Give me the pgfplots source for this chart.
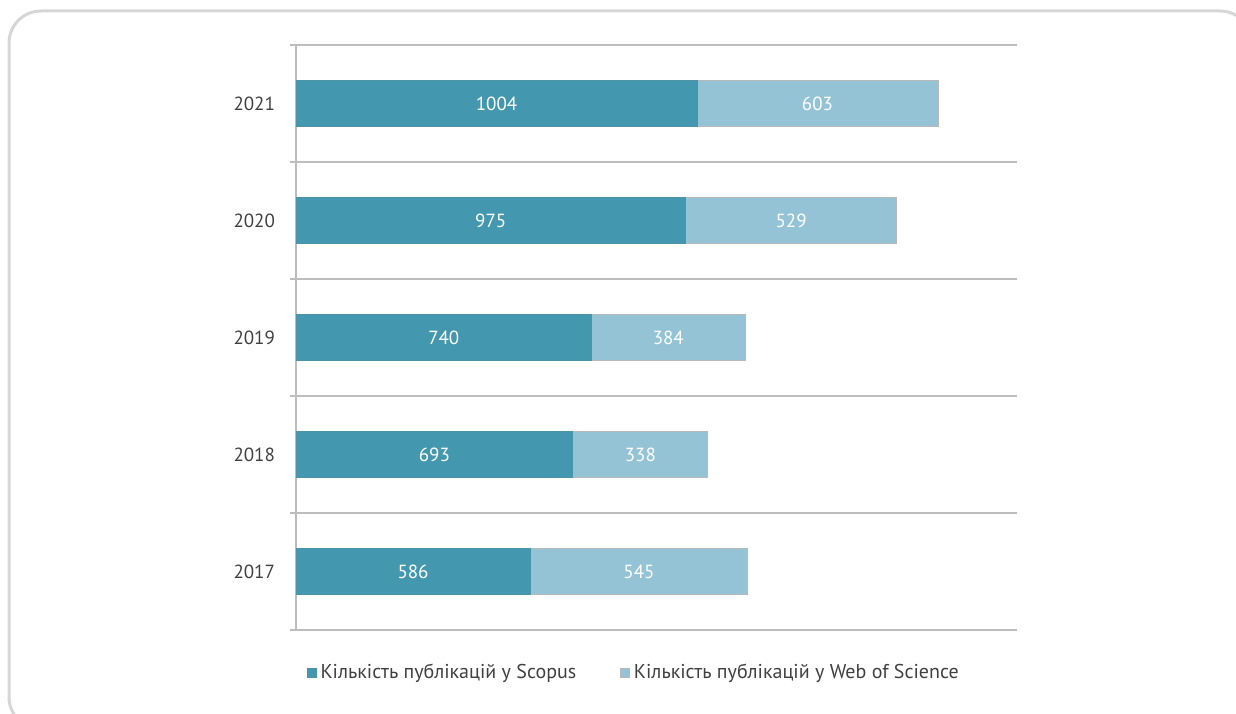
\documentclass[border=0pt]{standalone}
\usepackage{pgfplots}
\pgfplotsset{compat=1.18}
\usepackage{fontspec}
\setmainfont{PT Sans}
\definecolor{scop}{HTML}{4397AF}
\definecolor{wos}{HTML}{93C3D5}
\definecolor{gridc}{HTML}{BDBDBD}
\definecolor{txt}{HTML}{404040}
\definecolor{frame}{HTML}{D6D6D6}
\pgfplotsset{
  geom/.style={
    at={(148pt,41.5pt)}, anchor=south west,
    width=360.5pt, height=292.5pt, scale only axis,
    xmin=0, xmax=1805, ymin=-0.5, ymax=4.5,
  }
}
\begin{document}
\begin{tikzpicture}
\useasboundingbox (0pt,0pt) rectangle (618pt,356.5pt);
\begin{scope}
\clip (0pt,0pt) rectangle (618pt,356.5pt);
\draw[frame, line width=1.5pt, rounded corners=16pt] (4.5pt,-8pt) rectangle (626pt,351pt);
\end{scope}
\begin{axis}[
  geom,
  xbar stacked, bar width=23pt,
  axis x line=none,
  axis y line*=left,
  ytick={0,1,2,3,4},
  yticklabels={2017,2018,2019,2020,2021},
  minor ytick={-0.5,0.5,1.5,2.5,3.5,4.5},
  major tick length=0pt,
  minor tick length=3pt,
  tick align=outside,
  yminorgrids=true,
  minor grid style={gridc, line width=1pt},
  every minor tick/.style={gridc, line width=1pt},
  y axis line style={gridc, line width=1pt},
  yticklabel style={txt, font=\fontsize{9.5}{11}\selectfont, xshift=-7pt},
  legend style={at={(0.47,-0.0735)}, anchor=center, draw=none, fill=none,
    legend columns=2, font=\fontsize{10}{12}\selectfont, text=txt,
    /tikz/every even column/.append style={column sep=20pt}},
  legend image code/.code={\fill[#1] (0pt,-2.2pt) rectangle (4.4pt,2.2pt);},
]
\addplot[fill=scop, draw=scop!85!gray, line width=0.4pt]
  coordinates {(586,0) (693,1) (740,2) (975,3) (1004,4)};
\addlegendentry{Кількість публікацій у Scopus}
\addplot[fill=wos, draw=gray!55, line width=0.4pt]
  coordinates {(545,0) (338,1) (384,2) (529,3) (603,4)};
\addlegendentry{Кількість публікацій у Web of Science}
\end{axis}
\begin{axis}[
  geom, hide axis,
  nodes near coords,
  point meta=explicit symbolic,
  nodes near coords style={white, font=\fontsize{9.5}{11}\selectfont, anchor=center},
]
\addplot[draw=none, mark=none]
  coordinates {(293,0) [586] (346.5,1) [693] (370,2) [740] (487.5,3) [975] (502,4) [1004]};
\addplot[draw=none, mark=none]
  coordinates {(858.5,0) [545] (862,1) [338] (932,2) [384] (1239.5,3) [529] (1305.5,4) [603]};
\end{axis}
\end{tikzpicture}
\end{document}
